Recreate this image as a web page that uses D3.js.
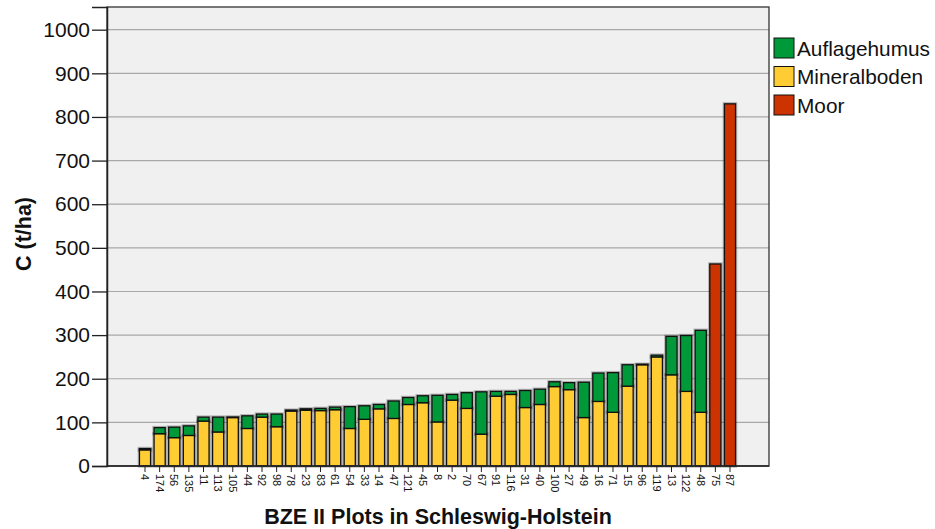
<!DOCTYPE html>
<html>
<head>
<meta charset="utf-8">
<script src="https://cdn.jsdelivr.net/npm/d3@7"></script>
<style>
body { margin: 0; background: #fff; }
text { font-family: "Liberation Sans", Arial, sans-serif; }
</style>
</head>
<body>
<svg id="chart" width="935" height="529"></svg>
<script>
var plots = ["4", "174", "56", "135", "11", "113", "105", "44", "92", "98", "78", "23", "83", "61",
    "54", "33", "14", "47", "121", "45", "8", "2", "70", "67", "91", "116", "31", "40", "100", "27",
    "49", "16", "71", "15", "96", "119", "13", "122", "48", "75", "87"]

var mineral = [37, 74, 65, 70, 103, 78, 111, 86, 112, 90, 126, 128, 127, 129,
    86, 107, 131, 109, 141, 145, 101, 151, 132, 73, 160, 164, 134, 141, 182, 175,
    111, 148, 123, 183, 232, 250, 209, 171, 123, 0, 0]

var humus = [3, 14, 24, 22, 9, 34, 1, 29, 7, 29, 2, 3, 5, 6,
    50, 31, 10, 40, 16, 16, 61, 13, 36, 97, 11, 7, 39, 35, 11, 16,
    81, 65, 91, 49, 1, 4, 88, 128, 188, 0, 0]

var moor = [0, 0, 0, 0, 0, 0, 0, 0, 0, 0, 0, 0, 0, 0,
    0, 0, 0, 0, 0, 0, 0, 0, 0, 0, 0, 0, 0, 0, 0, 0,
    0, 0, 0, 0, 0, 0, 0, 0, 0, 463, 830]

var yTicks = [0, 100, 200, 300, 400, 500, 600, 700, 800, 900, 1000]

var keys = ["Mineralboden", "Auflagehumus", "Moor"]
var colors = {"Auflagehumus": "#00993a", "Mineralboden": "#ffcc33", "Moor": "#cc3300"}
var legendOrder = ["Auflagehumus", "Mineralboden", "Moor"]

var svg = d3.select("svg#chart")
var pLeft = 107, pRight = 769, pTop = 7, pBottom = 466

var x = d3.scaleBand().domain(plots).range([137.7, 737.3]).paddingInner(0.24).paddingOuter(0.12)
var y = d3.scaleLinear().domain([0, 1052]).range([pBottom, pTop])

var rows = plots.map(function(p, i) {
    return {plot: p, "Mineralboden": mineral[i], "Auflagehumus": humus[i], "Moor": moor[i]}
})
var series = d3.stack().keys(keys)(rows)

// plot background
svg.append("rect")
    .attr("x", pLeft).attr("y", pTop)
    .attr("width", pRight - pLeft).attr("height", pBottom - pTop)
    .attr("fill", "#f0f0f0")

// grid
svg.append("g").selectAll("line").data(yTicks.slice(1)).enter().append("line")
    .attr("x1", pLeft).attr("x2", pRight)
    .attr("y1", function(d) { return y(d) }).attr("y2", function(d) { return y(d) })
    .attr("stroke", "#a8a8a8").attr("stroke-width", 1.2)

// bars
var gBars = svg.append("g")
series.forEach(function(s) {
    var data = s.filter(function(d) { return d[1] - d[0] > 0 })
    // soft shadow outline
    gBars.append("g").selectAll("rect").data(data).enter().append("rect")
        .attr("x", function(d) { return x(d.data.plot) })
        .attr("y", function(d) { return y(d[1]) })
        .attr("width", x.bandwidth())
        .attr("height", function(d) { return y(d[0]) - y(d[1]) })
        .attr("fill", "none")
        .attr("stroke", "rgba(0,0,0,0.25)")
        .attr("stroke-width", 3.5)
})
series.forEach(function(s) {
    var data = s.filter(function(d) { return d[1] - d[0] > 0 })
    gBars.append("g").selectAll("rect").data(data).enter().append("rect")
        .attr("x", function(d) { return x(d.data.plot) })
        .attr("y", function(d) { return y(d[1]) })
        .attr("width", x.bandwidth())
        .attr("height", function(d) { return y(d[0]) - y(d[1]) })
        .attr("fill", colors[s.key])
        .attr("stroke", "#111")
        .attr("stroke-width", 1.3)
})

// frame
svg.append("rect")
    .attr("x", pLeft).attr("y", pTop)
    .attr("width", pRight - pLeft).attr("height", pBottom - pTop)
    .attr("fill", "none").attr("stroke", "#333").attr("stroke-width", 1.3)

// y axis
var yAxis = svg.append("g")
    .attr("transform", "translate(" + pLeft + ",0)")
    .call(d3.axisLeft(y).tickValues(yTicks).tickFormat(d3.format("d")).tickSize(15).tickPadding(2))
yAxis.select(".domain").attr("stroke", "#222").attr("stroke-width", 1.5)
yAxis.selectAll(".tick line").attr("stroke", "#222").attr("stroke-width", 1.3)
yAxis.selectAll(".tick text")
    .style("font-size", "21px").attr("fill", "#111")
    .style("font-family", "'Liberation Sans', Arial, sans-serif")

// x axis
var xAxis = svg.append("g")
    .attr("transform", "translate(0," + pBottom + ")")
    .call(d3.axisBottom(x).tickSize(6).tickSizeOuter(0))
xAxis.select(".domain").attr("stroke", "#222").attr("stroke-width", 1.5).attr("d", "M" + pLeft + ",0H" + pRight)
xAxis.selectAll(".tick line").attr("stroke", "#222")
xAxis.selectAll(".tick text")
    .attr("transform", "rotate(90)")
    .attr("x", 8).attr("y", 0).attr("dy", "0.35em")
    .attr("text-anchor", "start")
    .style("font-size", "11px").attr("fill", "#111")
    .style("font-family", "'Liberation Sans', Arial, sans-serif")

// axis titles
svg.append("text")
    .attr("transform", "translate(31,234) rotate(-90)")
    .attr("text-anchor", "middle")
    .style("font-size", "21.5px").style("font-weight", "bold").attr("fill", "#111")
    .text("C (t/ha)")

svg.append("text")
    .attr("x", 438).attr("y", 524)
    .attr("text-anchor", "middle")
    .style("font-size", "21.5px").style("font-weight", "bold").attr("fill", "#111")
    .text("BZE II Plots in Schleswig-Holstein")

// legend
var legend = svg.append("g").selectAll("g").data(legendOrder).enter().append("g")
    .attr("transform", function(d, i) { return "translate(774," + (38 + i * 28.5) + ")" })
legend.append("rect")
    .attr("width", 20).attr("height", 20)
    .attr("fill", function(d) { return colors[d] })
    .attr("stroke", "#111").attr("stroke-width", 1)
legend.append("text")
    .attr("x", 23).attr("y", 17.5)
    .style("font-size", "20.8px").attr("fill", "#111")
    .text(function(d) { return d })
</script>
</body>
</html>
